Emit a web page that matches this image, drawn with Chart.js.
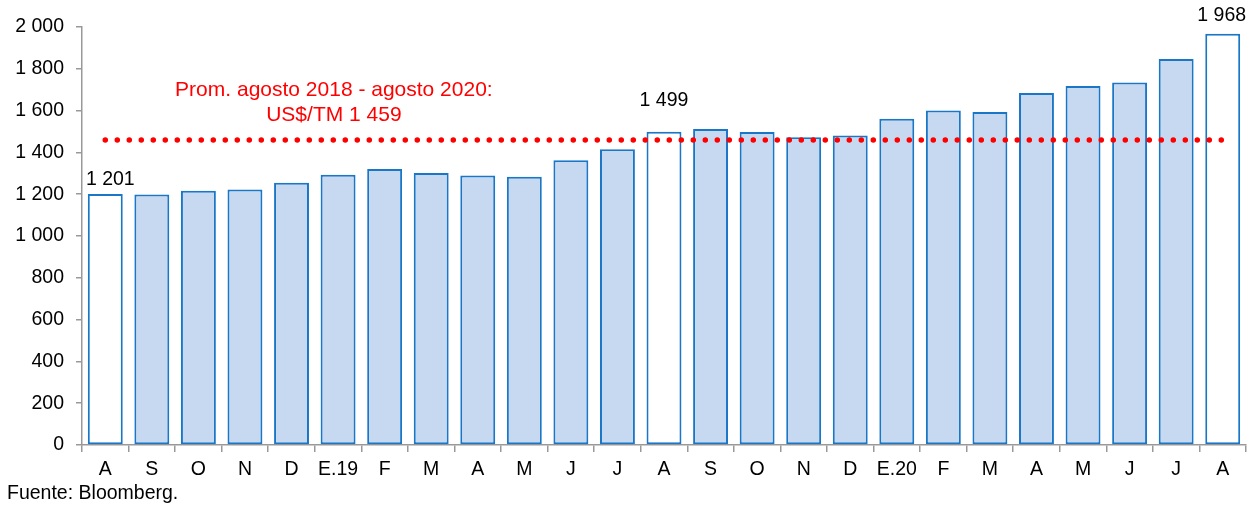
<!DOCTYPE html>
<html>
<head>
<meta charset="utf-8">
<script src="https://cdn.jsdelivr.net/npm/chart.js@4/dist/chart.umd.min.js"></script>
<style>
  html, body { margin: 0; padding: 0; background: #ffffff; }
  #wrap { width: 1251px; height: 505px; position: relative; }
</style>
</head>
<body>
<div id="wrap"><canvas id="c" width="1251" height="505"></canvas></div>
<script>
// ---- data ----
const months = ['A','S','O','N','D','E.19','F','M','A','M','J','J','A','S','O','N','D','E.20','F','M','A','M','J','J','A'];
const prices = [1201,1198,1217,1222,1255,1293,1321,1301,1289,1284,1362,1415,1499,1512,1498,1472,1481,1561,1600,1593,1684,1718,1735,1847,1968];
const highlighted = [0, 12, 24];           // bars shown in white with value labels
const avgPrice = 1459;
const avgLabelLines = ['Prom. agosto 2018 - agosto 2020:', 'US$/TM 1 459'];
const yTicks = [0,200,400,600,800,1000,1200,1400,1600,1800,2000];
const sourceNote = 'Fuente: Bloomberg.';

const fmt = v => String(v).replace(/\B(?=(\d{3})+(?!\d))/g, ' ');
const FONT = '"Liberation Sans", Arial, sans-serif';

const fillColors = prices.map((_, i) => highlighted.includes(i) ? '#ffffff' : '#c6d9f1');
const avgLine = months.map(() => avgPrice);

const annotations = {
  id: 'annotations',
  afterDatasetsDraw(chart) {
    const ctx = chart.ctx;
    const meta = chart.getDatasetMeta(1);
    const xs = chart.scales.x, ys = chart.scales.y;
    ctx.save();
    // value labels over highlighted bars
    const offs = {0: [5, 14], 12: [0, 31], 24: [-1, 18]};
    ctx.fillStyle = '#000';
    ctx.font = '19.5px ' + FONT;
    ctx.textAlign = 'center';
    ctx.textBaseline = 'middle';
    highlighted.forEach(i => {
      const el = meta.data[i];
      const o = offs[i];
      ctx.fillText(fmt(prices[i]), el.x + o[0], el.y - o[1]);
    });
    // average annotation
    ctx.fillStyle = '#ff0000';
    ctx.font = '21px ' + FONT;
    const cx = xs.getPixelForValue(4.91);
    ctx.fillText(avgLabelLines[0], cx, ys.getPixelForValue(1698));
    ctx.fillText(avgLabelLines[1], cx, ys.getPixelForValue(1578));
    // source
    ctx.fillStyle = '#000';
    ctx.font = '19.5px ' + FONT;
    ctx.textAlign = 'left';
    ctx.textBaseline = 'alphabetic';
    ctx.fillText(sourceNote, 7, 499);
    ctx.restore();
  }
};

new Chart(document.getElementById('c'), {
  data: {
    labels: months,
    datasets: [
      {
        type: 'line',
        data: avgLine,
        borderColor: '#ff0000',
        borderWidth: 5.5,
        borderDash: [0, 12],
        borderCapStyle: 'round',
        pointRadius: 0,
        fill: false,
        order: 0
      },
      {
        type: 'bar',
        data: prices,
        backgroundColor: fillColors,
        borderColor: '#1a76c6',
        borderWidth: 2,
        borderSkipped: false,
        categoryPercentage: 1.0,
        barPercentage: 0.75,
        order: 1
      }
    ]
  },
  options: {
    responsive: false,
    animation: false,
    devicePixelRatio: 1,
    layout: { padding: { top: 27, right: 5, bottom: 0, left: 0 } },
    plugins: { legend: { display: false }, tooltip: { enabled: false } },
    scales: {
      x: {
        offset: true,
        grid: { offset: true, drawOnChartArea: false, drawTicks: true, tickLength: 7, color: '#999999', lineWidth: 1.5 },
        border: { display: true, color: '#999999', width: 1.5 },
        ticks: { color: '#000', font: { family: FONT, size: 19.5 }, padding: 6, maxRotation: 0, autoSkip: false },
        afterFit(s) { s.height = 60; }
      },
      y: {
        min: 0, max: 2000,
        afterBuildTicks(s) { s.ticks = yTicks.map(v => ({ value: v })); },
        grid: { drawOnChartArea: false, drawTicks: true, tickLength: 6, color: '#999999', lineWidth: 1.5 },
        border: { display: true, color: '#999999', width: 1.5 },
        ticks: { color: '#000', font: { family: FONT, size: 19.5 }, padding: 12, callback: v => fmt(v) },
        afterFit(s) { s.width = 82; }
      }
    }
  },
  plugins: [annotations]
});
</script>
</body>
</html>
